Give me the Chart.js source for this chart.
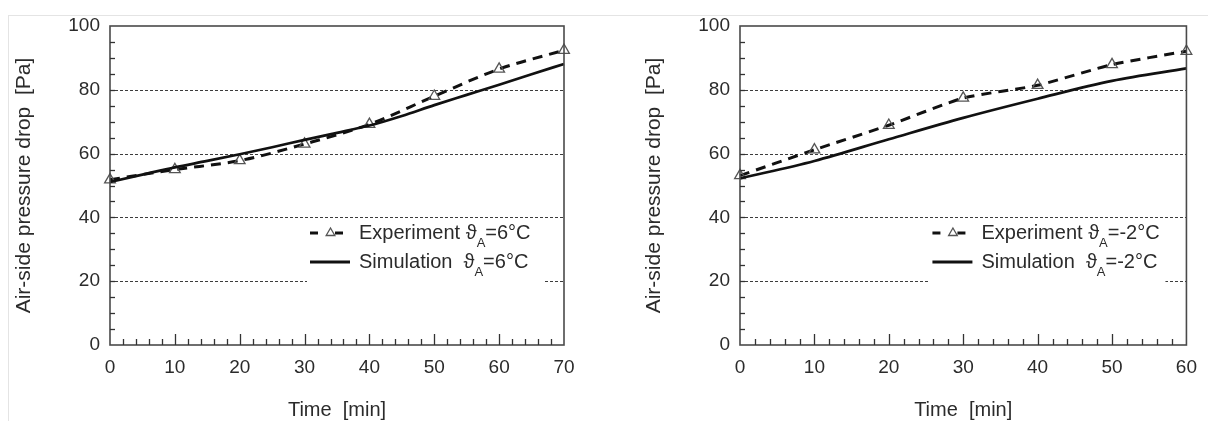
<!DOCTYPE html>
<html>
<head>
<meta charset="utf-8">
<script src="https://cdn.jsdelivr.net/npm/chart.js@4"></script>
<style>
  html, body { margin: 0; padding: 0; background: #fff; }
  #wrap { position: relative; width: 1208px; height: 421px; overflow: hidden; background: #fff; }
  #frame { position: absolute; left: 8px; top: 15px; right: 0; bottom: 0;
           border-left: 1px solid #e4e4e4; border-top: 1px solid #e4e4e4; }
  canvas { position: absolute; top: 0; }
</style>
</head>
<body>
<div id="wrap">
  <div id="frame"></div>
  <canvas id="warm" width="604" height="421" style="left:0"></canvas>
  <canvas id="cold" width="604" height="421" style="left:604px"></canvas>
</div>
<script>
// Inlet air 6 °C run (0–70 min)
const expTimeWarm = [0, 10, 20, 30, 40, 50, 60, 70];
const expWarm     = [51.8, 55.0, 57.8, 63.0, 69.2, 78.0, 86.5, 92.4];
const simTimeWarm = [0, 5, 10, 15, 20, 25, 30, 35, 40, 45, 50, 55, 60, 65, 70];
const simWarm     = [51.1, 53.4, 55.7, 57.7, 59.8, 62.0, 64.3, 66.5, 68.8, 71.8, 75.2, 78.4, 81.6, 84.9, 88.1];
const xTicksWarm  = [0, 10, 20, 30, 40, 50, 60, 70];

// Inlet air -2 °C run (0–60 min)
const expTimeCold = [0, 10, 20, 30, 40, 50, 60];
const expCold     = [53.1, 61.2, 68.9, 77.4, 81.4, 87.9, 92.1];
const simTimeCold = [0, 10, 20, 30, 40, 50, 60];
const simCold     = [52.2, 57.7, 64.5, 71.2, 77.2, 82.8, 86.7];
const xTicksCold  = [0, 10, 20, 30, 40, 50, 60];

const yTicks     = [0, 20, 40, 60, 80, 100];
const gridValues = [20, 40, 60, 80];

const legendWarm = [["Experiment \u03D1", "A", "=6\u00B0C"], ["Simulation  \u03D1", "A", "=6\u00B0C"]];
const legendCold = [["Experiment \u03D1", "A", "=-2\u00B0C"], ["Simulation  \u03D1", "A", "=-2\u00B0C"]];

const FONT = '"Liberation Sans", Arial, Helvetica, sans-serif';
const TEXT = '#2b2b2b';
Chart.defaults.font.family = FONT;

function pts(xs, ys) { return xs.map((t, i) => ({ x: t, y: ys[i] })); }

function seg(ctx, x1, y1, x2, y2) {
  ctx.beginPath(); ctx.moveTo(x1, y1); ctx.lineTo(x2, y2); ctx.stroke();
}

function triangle(ctx, cx, cy, r) {
  const h = r * Math.sqrt(3) / 2;
  ctx.beginPath();
  ctx.moveTo(cx, cy - r);
  ctx.lineTo(cx + h, cy + r / 2);
  ctx.lineTo(cx - h, cy + r / 2);
  ctx.closePath();
  ctx.stroke();
}

// Dashed grid, frame, inward tick marks and the inset legend
const decor = {
  id: 'decor',
  beforeDatasetsDraw(chart) {
    const { ctx, chartArea: a, scales: { y } } = chart;
    ctx.save();
    ctx.strokeStyle = '#3c3c3c';
    ctx.lineWidth = 1;
    ctx.setLineDash([3, 2]);
    for (const v of gridValues) {
      const py = Math.round(y.getPixelForValue(v)) + 0.5;
      seg(ctx, a.left, py, a.right, py);
    }
    ctx.restore();
  },
  afterDatasetsDraw(chart, args, opts) {
    const { ctx, chartArea: a, scales: { x, y } } = chart;
    ctx.save();

    // legend background
    const s = a.right - 254;
    ctx.fillStyle = '#fff';
    ctx.fillRect(s - 3, a.top + 196, 236, 64);

    // frame
    ctx.strokeStyle = '#4a4a4a';
    ctx.lineWidth = 1.6;
    ctx.strokeRect(a.left, a.top, a.right - a.left, a.bottom - a.top);

    // y ticks every 5
    ctx.lineWidth = 1.3;
    ctx.strokeStyle = '#333';
    for (let v = y.min + 5; v < y.max; v += 5) {
      const py = Math.round(y.getPixelForValue(v)) + 0.5;
      seg(ctx, a.left, py, a.left + 5, py);
    }
    // x ticks every 2, longer at every 10
    for (let v = x.min + 2; v < x.max; v += 2) {
      const px = Math.round(x.getPixelForValue(v)) + 0.5;
      const len = (v % 10 === 0) ? 11 : 6;
      seg(ctx, px, a.bottom, px, a.bottom - len);
    }

    // legend entries
    const row1 = a.top + 207, row2 = a.top + 236;
    ctx.strokeStyle = '#111';
    ctx.lineWidth = 3;
    seg(ctx, s, row1, s + 8, row1);
    seg(ctx, s + 25, row1, s + 33, row1);
    ctx.lineWidth = 1.3;
    ctx.strokeStyle = '#555';
    triangle(ctx, s + 20.5, row1, 5);
    ctx.strokeStyle = '#111';
    ctx.lineWidth = 2.8;
    seg(ctx, s, row2, s + 40, row2);

    const tx = a.right - 205;
    ctx.fillStyle = TEXT;
    ctx.textBaseline = 'middle';
    ctx.textAlign = 'left';
    [row1, row2].forEach((ry, i) => {
      const parts = opts.labels[i];
      let cx = tx;
      ctx.font = '20px ' + FONT;
      ctx.fillText(parts[0], cx, ry);
      cx += ctx.measureText(parts[0]).width;
      ctx.font = '13px ' + FONT;
      ctx.fillText(parts[1], cx, ry + 10);
      cx += ctx.measureText(parts[1]).width;
      ctx.font = '20px ' + FONT;
      ctx.fillText(parts[2], cx, ry);
    });
    ctx.restore();
  }
};

function makeChart(id, cfg) {
  return new Chart(document.getElementById(id), {
    type: 'line',
    data: {
      datasets: [
        {
          label: 'Simulation',
          data: pts(cfg.simT, cfg.sim),
          borderColor: '#111',
          borderWidth: 2.7,
          pointRadius: 0,
          cubicInterpolationMode: 'monotone',
          fill: false,
          clip: false
        },
        {
          label: 'Experiment',
          data: pts(cfg.expT, cfg.exp),
          borderColor: '#111',
          borderWidth: 3,
          borderDash: [10, 7],
          pointStyle: 'triangle',
          pointRadius: 6.2,
          pointBorderColor: '#555',
          pointBorderWidth: 1.3,
          pointBackgroundColor: 'rgba(255,255,255,0)',
          tension: cfg.expTension,
          cubicInterpolationMode: cfg.expMode,
          fill: false,
          clip: false
        }
      ]
    },
    options: {
      responsive: false,
      animation: false,
      devicePixelRatio: 1,
      layout: { padding: { left: cfg.padLeft, right: cfg.padRight, top: 26, bottom: 0 } },
      plugins: {
        legend: { display: false },
        tooltip: { enabled: false },
        decor: { labels: cfg.legend }
      },
      scales: {
        x: {
          type: 'linear',
          min: 0,
          max: cfg.xTicks[cfg.xTicks.length - 1],
          afterBuildTicks: sc => { sc.ticks = cfg.xTicks.map(v => ({ value: v })); },
          afterFit: sc => { sc.height = 76; },
          grid: { display: false, drawTicks: false },
          border: { display: false },
          ticks: { padding: 11, color: TEXT, font: { size: 19 }, maxRotation: 0, autoSkip: false },
          title: { display: true, text: 'Time  [min]', color: TEXT,
                   font: { size: 20, lineHeight: 1.1 }, padding: { top: 0, bottom: 0 } }
        },
        y: {
          type: 'linear',
          min: 0,
          max: 100,
          afterBuildTicks: sc => { sc.ticks = yTicks.map(v => ({ value: v })); },
          afterFit: sc => { sc.width = 110; },
          grid: { display: false, drawTicks: false },
          border: { display: false },
          ticks: { padding: 10, color: TEXT, font: { size: 19 } },
          title: { display: true, text: 'Air-side pressure drop  [Pa]', color: TEXT,
                   font: { size: 21, lineHeight: 1.2 }, padding: { top: 11.4, bottom: 0 } }
        }
      }
    },
    plugins: [decor]
  });
}

makeChart('warm', {
  expT: expTimeWarm, exp: expWarm, simT: simTimeWarm, sim: simWarm,
  expMode: 'monotone', expTension: 0.4,
  xTicks: xTicksWarm, legend: legendWarm, padLeft: 0, padRight: 40
});
makeChart('cold', {
  expT: expTimeCold, exp: expCold, simT: simTimeCold, sim: simCold,
  expMode: 'default', expTension: 0.2,
  xTicks: xTicksCold, legend: legendCold, padLeft: 26, padRight: 13
});
</script>
</body>
</html>
